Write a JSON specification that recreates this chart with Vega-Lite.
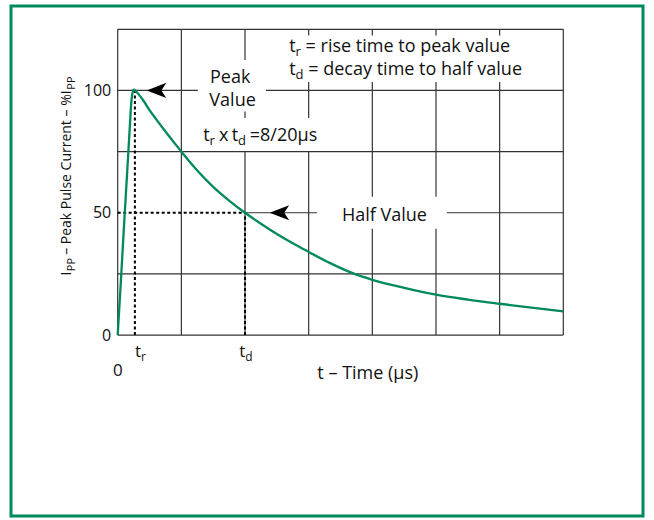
{
  "$schema": "https://vega.github.io/schema/vega-lite/v6.json",
  "width": 632,
  "height": 510,
  "autosize": {"type": "none"},
  "padding": {"left": 11, "top": 6, "right": 11, "bottom": 4},
  "background": "white",
  "config": {
    "view": {"stroke": "#00895c", "strokeWidth": 3},
    "font": "Open Sans",
    "text": {"font": "Open Sans", "color": "#111"},
    "axisY": {"orient": "left", "offset": -106.7, "ticks": false, "domain": false, "grid": false,
      "labelFont": "Open Sans", "labelFontSize": 16, "labelColor": "#111", "labelPadding": 7}
  },
  "datasets": {
    "curve": [
      {"t": 0, "i": 0}, {"t": 0.5, "i": 22}, {"t": 1.0, "i": 45}, {"t": 1.5, "i": 67},
      {"t": 1.9, "i": 85}, {"t": 2.15, "i": 95.5}, {"t": 2.35, "i": 99.3}, {"t": 2.55, "i": 100.3},
      {"t": 2.75, "i": 100}, {"t": 3.3, "i": 98.4}, {"t": 4, "i": 96}, {"t": 5, "i": 92},
      {"t": 6, "i": 88.4}, {"t": 7.5, "i": 83.2}, {"t": 10, "i": 75}, {"t": 12.5, "i": 67.3},
      {"t": 15, "i": 60.6}, {"t": 17.5, "i": 55}, {"t": 20, "i": 50}, {"t": 22.5, "i": 45.5},
      {"t": 25, "i": 41.3}, {"t": 27.5, "i": 37.5}, {"t": 30, "i": 34}, {"t": 33.3, "i": 29.5},
      {"t": 37, "i": 25.2}, {"t": 40, "i": 22.6}, {"t": 45, "i": 19.3}, {"t": 50, "i": 16.5},
      {"t": 55, "i": 14.5}, {"t": 60, "i": 12.8}, {"t": 65, "i": 11.2}, {"t": 70, "i": 9.7}
    ],
    "gridV": [
      {"t": 0, "from": 0, "to": 125},
      {"t": 10, "from": 0, "to": 125},
      {"t": 20, "from": 0, "to": 75}, {"t": 20, "from": 88.7, "to": 91.4}, {"t": 20, "from": 112.5, "to": 125},
      {"t": 30, "from": 0, "to": 75}, {"t": 30, "from": 88.7, "to": 103.5}, {"t": 30, "from": 122.5, "to": 125},
      {"t": 40, "from": 0, "to": 43.5}, {"t": 40, "from": 56.5, "to": 103.5}, {"t": 40, "from": 122.5, "to": 125},
      {"t": 50, "from": 0, "to": 43.5}, {"t": 50, "from": 56.5, "to": 103.5}, {"t": 50, "from": 122.5, "to": 125},
      {"t": 60, "from": 0, "to": 103.5}, {"t": 60, "from": 122.5, "to": 125},
      {"t": 70, "from": 0, "to": 125}
    ],
    "gridH": [
      {"i": 0, "from": 0, "to": 70},
      {"i": 25, "from": 0, "to": 70},
      {"i": 50, "from": 20, "to": 31.3}, {"i": 50, "from": 51.7, "to": 70},
      {"i": 75, "from": 0, "to": 70},
      {"i": 100, "from": 0, "to": 12.6}, {"i": 100, "from": 23.3, "to": 70},
      {"i": 125, "from": 0, "to": 70}
    ],
    "dashV": [{"t": 2.7, "from": 0, "to": 100}, {"t": 20, "from": 0, "to": 50}],
    "dashH": [{"i": 50, "from": 0, "to": 20}],
    "arrows": [{"t": 6.1, "i": 100}, {"t": 25.4, "i": 50}],
    "mainText": [
      {"t": 26.96, "i": 115.8, "label": "t"},
      {"t": 29.52, "i": 115.8, "label": "= rise time to peak value"},
      {"t": 26.96, "i": 106.4, "label": "t"},
      {"t": 29.94, "i": 106.4, "label": "= decay time to half value"},
      {"t": 14.5, "i": 103.1, "label": "Peak"},
      {"t": 14.4, "i": 93.5, "label": "Value"},
      {"t": 13.45, "i": 79.2, "label": "t"},
      {"t": 15.9, "i": 79.2, "label": "x"},
      {"t": 17.9, "i": 79.2, "label": "t"},
      {"t": 20.75, "i": 79.2, "label": "=8/20µs"},
      {"t": 35.23, "i": 46.5, "label": "Half Value"}
    ],
    "subText": [
      {"t": 27.95, "i": 115.8, "label": "r"},
      {"t": 27.95, "i": 106.4, "label": "d"},
      {"t": 14.44, "i": 79.2, "label": "r"},
      {"t": 18.9, "i": 79.2, "label": "d"}
    ],
    "axisText": [
      {"t": 2.72, "i": -8.9, "label": "t"},
      {"t": 19.1, "i": -8.9, "label": "t"},
      {"t": -0.74, "i": -16.6, "label": "0"}
    ],
    "axisSub": [
      {"t": 3.66, "i": -8.9, "label": "r"},
      {"t": 20.04, "i": -8.9, "label": "d"}
    ],
    "xTitle": [{"t": 39.3, "i": -17.9, "label": "t – Time (µs)"}],
    "yTitleMain": [
      {"t": -7.33, "i": 24.4, "label": "I"},
      {"t": -7.33, "i": 32.8, "label": "– Peak Pulse Current – %I"}
    ],
    "yTitleSub": [
      {"t": -7.33, "i": 26.1, "label": "PP"},
      {"t": -7.33, "i": 100.3, "label": "PP"}
    ]
  },
  "layer": [
    {
      "data": {"name": "gridV"},
      "mark": {"type": "rule", "color": "#333", "strokeWidth": 1.2},
      "encoding": {
        "x": {"field": "t", "type": "quantitative", "scale": {"domain": [-16.76, 82.52], "nice": false, "zero": false}, "axis": null},
        "y": {"field": "from", "type": "quantitative", "scale": {"domain": [-73.97, 134.53], "nice": false, "zero": false}, "axis": {"title": null, "values": [0, 50, 100]}},
        "y2": {"field": "to"}
      }
    },
    {
      "data": {"name": "gridH"},
      "mark": {"type": "rule", "color": "#333", "strokeWidth": 1.2},
      "encoding": {
        "y": {"field": "i", "type": "quantitative", "scale": {"domain": [-73.97, 134.53], "nice": false, "zero": false}, "axis": {"title": null, "values": [0, 50, 100]}},
        "x": {"field": "from", "type": "quantitative", "scale": {"domain": [-16.76, 82.52], "nice": false, "zero": false}, "axis": null},
        "x2": {"field": "to"}
      }
    },
    {
      "data": {"name": "dashV"},
      "mark": {"type": "rule", "color": "#000", "strokeWidth": 2, "strokeDash": [3, 2.5]},
      "encoding": {
        "x": {"field": "t", "type": "quantitative", "scale": {"domain": [-16.76, 82.52], "nice": false, "zero": false}, "axis": null},
        "y": {"field": "from", "type": "quantitative", "scale": {"domain": [-73.97, 134.53], "nice": false, "zero": false}, "axis": {"title": null, "values": [0, 50, 100]}},
        "y2": {"field": "to"}
      }
    },
    {
      "data": {"name": "dashH"},
      "mark": {"type": "rule", "color": "#000", "strokeWidth": 2, "strokeDash": [3, 2.5]},
      "encoding": {
        "y": {"field": "i", "type": "quantitative", "scale": {"domain": [-73.97, 134.53], "nice": false, "zero": false}, "axis": {"title": null, "values": [0, 50, 100]}},
        "x": {"field": "from", "type": "quantitative", "scale": {"domain": [-16.76, 82.52], "nice": false, "zero": false}, "axis": null},
        "x2": {"field": "to"}
      }
    },
    {
      "data": {"name": "curve"},
      "mark": {"type": "line", "color": "#00895c", "strokeWidth": 2.3, "interpolate": "monotone"},
      "encoding": {
        "x": {"field": "t", "type": "quantitative", "scale": {"domain": [-16.76, 82.52], "nice": false, "zero": false}, "axis": null},
        "y": {"field": "i", "type": "quantitative", "scale": {"domain": [-73.97, 134.53], "nice": false, "zero": false}, "axis": {"title": null, "values": [0, 50, 100]}}
      }
    },
    {
      "data": {"name": "arrows"},
      "mark": {"type": "point", "shape": "M-1,0L1,-0.78L0.5,0L1,0.78Z", "filled": true, "color": "#000", "opacity": 1, "size": 380},
      "encoding": {
        "x": {"field": "t", "type": "quantitative", "scale": {"domain": [-16.76, 82.52], "nice": false, "zero": false}, "axis": null},
        "y": {"field": "i", "type": "quantitative", "scale": {"domain": [-73.97, 134.53], "nice": false, "zero": false}, "axis": {"title": null, "values": [0, 50, 100]}}
      }
    },
    {
      "data": {"name": "mainText"},
      "mark": {"type": "text", "align": "left", "baseline": "alphabetic", "fontSize": 18, "font": "Open Sans"},
      "encoding": {
        "x": {"field": "t", "type": "quantitative", "scale": {"domain": [-16.76, 82.52], "nice": false, "zero": false}, "axis": null},
        "y": {"field": "i", "type": "quantitative", "scale": {"domain": [-73.97, 134.53], "nice": false, "zero": false}, "axis": {"title": null, "values": [0, 50, 100]}},
        "text": {"field": "label"}
      }
    },
    {
      "data": {"name": "subText"},
      "mark": {"type": "text", "align": "left", "baseline": "alphabetic", "fontSize": 13, "dy": 4, "font": "Open Sans"},
      "encoding": {
        "x": {"field": "t", "type": "quantitative", "scale": {"domain": [-16.76, 82.52], "nice": false, "zero": false}, "axis": null},
        "y": {"field": "i", "type": "quantitative", "scale": {"domain": [-73.97, 134.53], "nice": false, "zero": false}, "axis": {"title": null, "values": [0, 50, 100]}},
        "text": {"field": "label"}
      }
    },
    {
      "data": {"name": "axisText"},
      "mark": {"type": "text", "align": "left", "baseline": "alphabetic", "fontSize": 17, "font": "Open Sans"},
      "encoding": {
        "x": {"field": "t", "type": "quantitative", "scale": {"domain": [-16.76, 82.52], "nice": false, "zero": false}, "axis": null},
        "y": {"field": "i", "type": "quantitative", "scale": {"domain": [-73.97, 134.53], "nice": false, "zero": false}, "axis": {"title": null, "values": [0, 50, 100]}},
        "text": {"field": "label"}
      }
    },
    {
      "data": {"name": "axisSub"},
      "mark": {"type": "text", "align": "left", "baseline": "alphabetic", "fontSize": 12, "dy": 4, "font": "Open Sans"},
      "encoding": {
        "x": {"field": "t", "type": "quantitative", "scale": {"domain": [-16.76, 82.52], "nice": false, "zero": false}, "axis": null},
        "y": {"field": "i", "type": "quantitative", "scale": {"domain": [-73.97, 134.53], "nice": false, "zero": false}, "axis": {"title": null, "values": [0, 50, 100]}},
        "text": {"field": "label"}
      }
    },
    {
      "data": {"name": "xTitle"},
      "mark": {"type": "text", "align": "center", "baseline": "alphabetic", "fontSize": 18, "font": "Open Sans"},
      "encoding": {
        "x": {"field": "t", "type": "quantitative", "scale": {"domain": [-16.76, 82.52], "nice": false, "zero": false}, "axis": null},
        "y": {"field": "i", "type": "quantitative", "scale": {"domain": [-73.97, 134.53], "nice": false, "zero": false}, "axis": {"title": null, "values": [0, 50, 100]}},
        "text": {"field": "label"}
      }
    },
    {
      "data": {"name": "yTitleMain"},
      "mark": {"type": "text", "align": "left", "baseline": "alphabetic", "fontSize": 14, "angle": 270, "font": "Open Sans"},
      "encoding": {
        "x": {"field": "t", "type": "quantitative", "scale": {"domain": [-16.76, 82.52], "nice": false, "zero": false}, "axis": null},
        "y": {"field": "i", "type": "quantitative", "scale": {"domain": [-73.97, 134.53], "nice": false, "zero": false}, "axis": {"title": null, "values": [0, 50, 100]}},
        "text": {"field": "label"}
      }
    },
    {
      "data": {"name": "yTitleSub"},
      "mark": {"type": "text", "align": "left", "baseline": "alphabetic", "fontSize": 11, "angle": 270, "dy": 4, "font": "Open Sans"},
      "encoding": {
        "x": {"field": "t", "type": "quantitative", "scale": {"domain": [-16.76, 82.52], "nice": false, "zero": false}, "axis": null},
        "y": {"field": "i", "type": "quantitative", "scale": {"domain": [-73.97, 134.53], "nice": false, "zero": false}, "axis": {"title": null, "values": [0, 50, 100]}},
        "text": {"field": "label"}
      }
    }
  ]
}
